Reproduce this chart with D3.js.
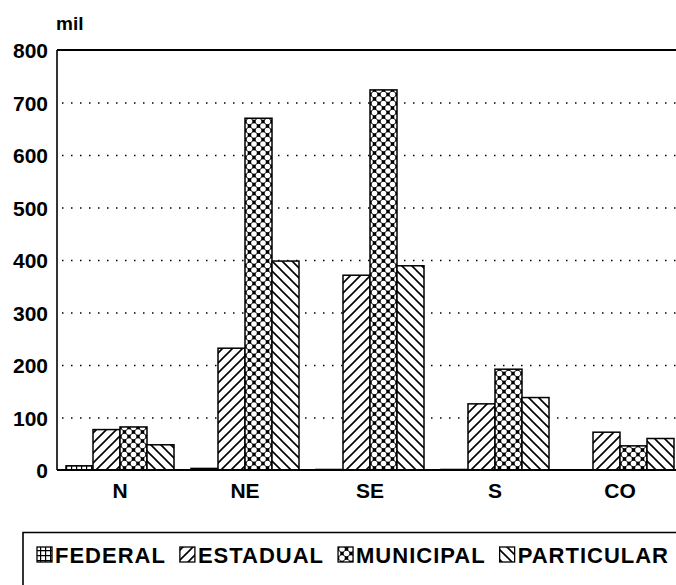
<!DOCTYPE html>
<html>
<head>
<meta charset="utf-8">
<script src="https://cdn.jsdelivr.net/npm/d3@7"></script>
<style>
  body { margin: 0; background: #fff; }
  text { font-family: "Liberation Sans", Arial, sans-serif; font-weight: bold; fill: #000; }
</style>
</head>
<body>
<div id="vis"></div>
<script>
// regions and the four series (values in thousands)
var regions = ["N", "NE", "SE", "S", "CO"];
var series = ["FEDERAL", "ESTADUAL", "MUNICIPAL", "PARTICULAR"];
var federal = [8, 3, 1, 1, 0];
var estadual = [77, 232, 371, 126, 72];
var municipal = [82, 670, 724, 192, 46];
var particular = [48, 398, 389, 138, 60];
var yTicks = [0, 100, 200, 300, 400, 500, 600, 700, 800];

var width = 676, height = 585;

var svg = d3.select("#vis").append("svg")
    .attr("width", width)
    .attr("height", height);

// patterns for the fills
var defs = svg.append("defs");

var pGrid = defs.append("pattern").attr("id", "p-federal")
    .attr("patternUnits", "userSpaceOnUse").attr("width", 5).attr("height", 5);
pGrid.append("rect").attr("width", 5).attr("height", 5).attr("fill", "#fff");
pGrid.append("path").attr("d", "M0,0.5H5M0.5,0V5").attr("stroke", "#000").attr("stroke-width", 1.4);

var pUp = defs.append("pattern").attr("id", "p-estadual")
    .attr("patternUnits", "userSpaceOnUse").attr("width", 10).attr("height", 10);
pUp.append("rect").attr("width", 10).attr("height", 10).attr("fill", "#fff");
pUp.append("path").attr("d", "M-2,12L12,-2M-7,7L7,-7M3,17L17,3")
    .attr("stroke", "#000").attr("stroke-width", 1.6);

var pDots = defs.append("pattern").attr("id", "p-municipal")
    .attr("patternUnits", "userSpaceOnUse").attr("width", 9).attr("height", 9);
pDots.append("rect").attr("width", 9).attr("height", 9).attr("fill", "#000");
[[0, 0], [9, 0], [0, 9], [9, 9], [4.5, 4.5]].forEach(function (c) {
    pDots.append("circle").attr("cx", c[0]).attr("cy", c[1]).attr("r", 2.8).attr("fill", "#fff");
});

var pDown = defs.append("pattern").attr("id", "p-particular")
    .attr("patternUnits", "userSpaceOnUse").attr("width", 10).attr("height", 10);
pDown.append("rect").attr("width", 10).attr("height", 10).attr("fill", "#fff");
pDown.append("path").attr("d", "M-2,-2L12,12M-7,3L7,17M3,-7L17,7")
    .attr("stroke", "#000").attr("stroke-width", 1.6);

var fills = ["url(#p-federal)", "url(#p-estadual)", "url(#p-municipal)", "url(#p-particular)"];

// scales
var x = d3.scaleBand()
    .domain(regions)
    .range([57.5, 682.5])
    .paddingInner(0.136)
    .paddingOuter(0.068);

var xs = d3.scaleBand()
    .domain(series)
    .range([0, x.bandwidth()]);

var y = d3.scaleLinear()
    .domain([0, 800])
    .range([470, 50]);

// dotted gridlines
svg.append("g")
    .selectAll("line")
    .data(yTicks.filter(function (d) { return d > 0 && d < 800; }))
    .enter().append("line")
    .attr("x1", 62).attr("x2", width)
    .attr("y1", function (d) { return y(d) + 0.5; })
    .attr("y2", function (d) { return y(d) + 0.5; })
    .attr("stroke", "#000")
    .attr("stroke-width", 1.3)
    .attr("stroke-dasharray", "1.5,7.5");

// bars
var rows = regions.map(function (r, i) {
    return {region: r, values: [federal[i], estadual[i], municipal[i], particular[i]]};
});

var groups = svg.append("g").selectAll("g")
    .data(rows)
    .enter().append("g")
    .attr("transform", function (d) { return "translate(" + x(d.region) + ",0)"; });

groups.selectAll("rect")
    .data(function (d) {
        return d.values.map(function (v, j) { return {key: series[j], value: v, j: j}; });
    })
    .enter().append("rect")
    .attr("x", function (d) { return xs(d.key); })
    .attr("width", xs.bandwidth())
    .attr("y", function (d) { return y(d.value); })
    .attr("height", function (d) { return y(0) - y(d.value); })
    .attr("fill", function (d) { return fills[d.j]; })
    .attr("stroke", "#000")
    .attr("stroke-width", 1.5);

// frame lines
svg.append("line").attr("x1", 57).attr("x2", width).attr("y1", y(800)).attr("y2", y(800))
    .attr("stroke", "#000").attr("stroke-width", 2);
svg.append("line").attr("x1", 57).attr("x2", width).attr("y1", y(0)).attr("y2", y(0))
    .attr("stroke", "#000").attr("stroke-width", 2.2);
svg.append("line").attr("x1", 57).attr("x2", 57).attr("y1", y(800)).attr("y2", y(0))
    .attr("stroke", "#000").attr("stroke-width", 1.6);

// axes
var yAxis = svg.append("g")
    .attr("transform", "translate(57,0)")
    .call(d3.axisLeft(y).tickValues(yTicks).tickSize(0).tickPadding(9));
yAxis.select(".domain").remove();
yAxis.selectAll("text")
    .style("font-size", "21px")
    .attr("dy", "0.36em");

var xAxis = svg.append("g")
    .attr("transform", "translate(0," + y(0) + ")")
    .call(d3.axisBottom(x).tickSize(0).tickPadding(13));
xAxis.select(".domain").remove();
xAxis.selectAll("text")
    .style("font-size", "21px");

svg.append("text")
    .attr("x", 56).attr("y", 30)
    .style("font-size", "19px")
    .text("mil");

// legend
svg.append("path")
    .attr("d", "M23," + (height + 5) + "V532.5H" + (width + 5))
    .attr("fill", "none")
    .attr("stroke", "#000")
    .attr("stroke-width", 1.6);

var lx = 37;
series.forEach(function (s, j) {
    svg.append("rect")
        .attr("x", lx).attr("y", 547)
        .attr("width", 15).attr("height", 15)
        .attr("fill", fills[j])
        .attr("stroke", "#000")
        .attr("stroke-width", 1.3);
    var t = svg.append("text")
        .attr("x", lx + 18).attr("y", 563)
        .style("font-size", "22px")
        .style("letter-spacing", "1px")
        .text(s);
    lx += 18 + t.node().getComputedTextLength() + 14;
});
</script>
</body>
</html>
